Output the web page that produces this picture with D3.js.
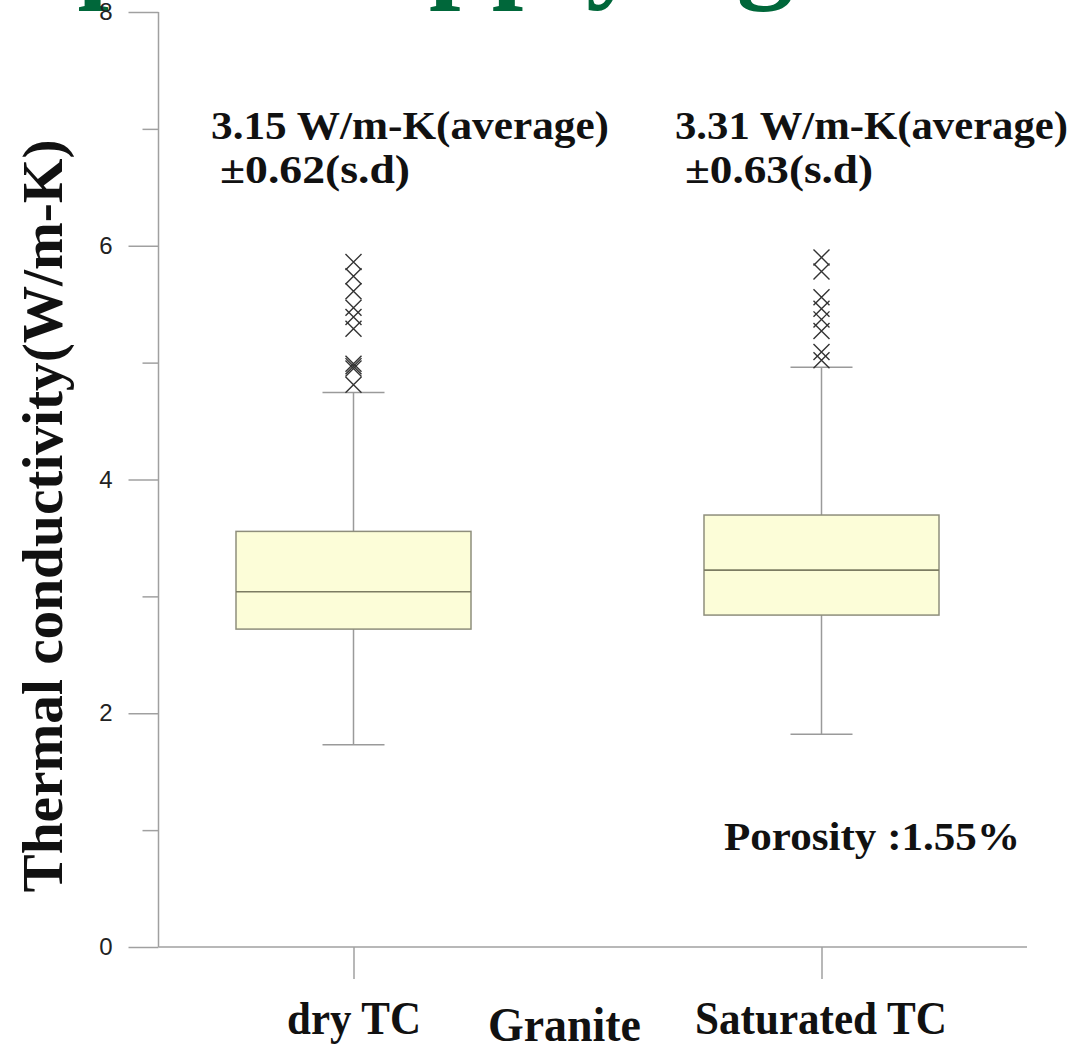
<!DOCTYPE html>
<html>
<head>
<meta charset="utf-8">
<script src="https://cdn.jsdelivr.net/npm/d3@7"></script>
<style>
  body { margin: 0; background: #fff; }
  svg { display: block; }
</style>
</head>
<body>
<script>
//Width and Height
var w = 1079;
var h = 1047;

/***Data***/
var categories = ["dry TC", "Saturated TC"];
var whiskerLow = [1.73, 1.82];
var q1 = [2.72, 2.84];
var median = [3.04, 3.225];
var q3 = [3.556, 3.696];
var whiskerHigh = [4.745, 4.96];
var dryOutliers = [5.86, 5.74, 5.61, 5.47, 5.39, 5.29, 4.99, 4.97, 4.95, 4.81];
var satOutliers = [5.90, 5.78, 5.56, 5.46, 5.37, 5.27, 5.09, 5.02];
var yTicks = [0, 2, 4, 6, 8];
var yMinorTicks = [1, 3, 5, 7];
var averages = ["3.15 W/m-K(average)", "3.31 W/m-K(average)"];
var deviations = ["\u00b10.62(s.d)", "\u00b10.63(s.d)"];

var boxes = categories.map(function(c, i) {
  return {name: c, lo: whiskerLow[i], q1: q1[i], med: median[i], q3: q3[i], hi: whiskerHigh[i],
          out: i === 0 ? dryOutliers : satOutliers};
});

var serif = "'Liberation Serif', 'Times New Roman', serif";
var sans = "'Liberation Sans', Arial, sans-serif";

/***Draw SVG***/
var svg = d3.select("body")
            .append("svg")
            .attr("width", w)
            .attr("height", h);

/***Cut-off slide heading (only its descenders show)***/
svg.append("text")
   .attr("x", -205)
   .attr("y", -13)
   .attr("font-family", serif)
   .attr("font-weight", "bold")
   .attr("font-size", 113)
   .attr("fill", "#00673a")
   .text("Example of applying");

/***Scales***/
var yScale = d3.scaleLinear()
               .domain([0, 8])
               .range([947, 12]);
var xScale = d3.scalePoint()
               .domain(categories)
               .range([353.5, 821.5]);

var axisLeftX = 158.5;
var axisRightX = 1027;
var boxHalf = 117.5;
var capHalf = 31;

/***Axes***/
var yAxis = d3.axisLeft(yScale)
              .tickValues(yTicks)
              .tickSize(30)
              .tickPadding(16)
              .tickSizeOuter(0);
var gy = svg.append("g")
            .attr("class", "yaxis")
            .attr("transform", "translate(" + axisLeftX + ",0)")
            .call(yAxis);
gy.select(".domain").remove();
gy.selectAll("line").attr("stroke", "#a0a0a0").attr("stroke-width", 1.5);
gy.selectAll("text")
  .attr("font-family", sans)
  .attr("font-size", 24)
  .attr("fill", "#222");

var gyMinor = svg.append("g")
                 .attr("transform", "translate(" + axisLeftX + ",0)")
                 .call(d3.axisLeft(yScale).tickValues(yMinorTicks).tickSize(16).tickFormat(""));
gyMinor.select(".domain").remove();
gyMinor.selectAll("line").attr("stroke", "#a0a0a0").attr("stroke-width", 1.5);

var xAxis = d3.axisBottom(xScale)
              .tickSize(32)
              .tickFormat("");
var gx = svg.append("g")
            .attr("class", "xaxis")
            .attr("transform", "translate(0," + yScale(0) + ")")
            .call(xAxis);
gx.select(".domain").remove();
gx.selectAll("line").attr("stroke", "#a0a0a0").attr("stroke-width", 1.5);

// axis lines
svg.append("line")
   .attr("x1", axisLeftX).attr("x2", axisLeftX)
   .attr("y1", yScale(8)).attr("y2", yScale(0))
   .attr("stroke", "#a0a0a0").attr("stroke-width", 1.5);
svg.append("line")
   .attr("x1", axisLeftX).attr("x2", axisRightX)
   .attr("y1", yScale(0)).attr("y2", yScale(0))
   .attr("stroke", "#a0a0a0").attr("stroke-width", 1.5);

/***Boxes***/
var g = svg.selectAll(".box")
           .data(boxes)
           .enter()
           .append("g")
           .attr("class", "box");

// whisker stems
g.append("line")
 .attr("x1", function(d) { return xScale(d.name); })
 .attr("x2", function(d) { return xScale(d.name); })
 .attr("y1", function(d) { return yScale(d.lo); })
 .attr("y2", function(d) { return yScale(d.hi); })
 .attr("stroke", "#9a9a9a").attr("stroke-width", 1.5);
// caps
["lo", "hi"].forEach(function(k) {
  g.append("line")
   .attr("x1", function(d) { return xScale(d.name) - capHalf; })
   .attr("x2", function(d) { return xScale(d.name) + capHalf; })
   .attr("y1", function(d) { return yScale(d[k]); })
   .attr("y2", function(d) { return yScale(d[k]); })
   .attr("stroke", "#9a9a9a").attr("stroke-width", 1.5);
});
// box
g.append("rect")
 .attr("x", function(d) { return xScale(d.name) - boxHalf; })
 .attr("width", boxHalf * 2)
 .attr("y", function(d) { return yScale(d.q3); })
 .attr("height", function(d) { return yScale(d.q1) - yScale(d.q3); })
 .attr("fill", "#fcfdd8")
 .attr("stroke", "#8e8e7c")
 .attr("stroke-width", 1.5);
// median
g.append("line")
 .attr("x1", function(d) { return xScale(d.name) - boxHalf; })
 .attr("x2", function(d) { return xScale(d.name) + boxHalf; })
 .attr("y1", function(d) { return yScale(d.med); })
 .attr("y2", function(d) { return yScale(d.med); })
 .attr("stroke", "#7c7c62").attr("stroke-width", 1.6);

// outliers
var xMark = d3.symbol().type(d3.symbolX).size(169);
g.each(function(d) {
  d3.select(this).selectAll(".out")
    .data(d.out)
    .enter()
    .append("path")
    .attr("class", "out")
    .attr("d", xMark)
    .attr("transform", function(v) { return "translate(" + xScale(d.name) + "," + yScale(v) + ")"; })
    .attr("fill", "none")
    .attr("stroke", "#333")
    .attr("stroke-width", 1.4);
});

/***Annotations***/
var annX = [211, 675];
var annW = [398, 393];
var devX = [220, 685];
var devW = [190, 188];
categories.forEach(function(c, i) {
  svg.append("text")
     .attr("x", annX[i]).attr("y", 139)
     .attr("font-family", serif).attr("font-weight", "bold")
     .attr("font-size", 39).attr("fill", "#111")
     .attr("textLength", annW[i]).attr("lengthAdjust", "spacingAndGlyphs")
     .text(averages[i]);
  svg.append("text")
     .attr("x", devX[i]).attr("y", 183)
     .attr("font-family", serif).attr("font-weight", "bold")
     .attr("font-size", 39).attr("fill", "#111")
     .attr("textLength", devW[i]).attr("lengthAdjust", "spacingAndGlyphs")
     .text(deviations[i]);
});

svg.append("text")
   .attr("x", 724).attr("y", 850)
   .attr("font-family", serif).attr("font-weight", "bold")
   .attr("font-size", 41).attr("fill", "#111")
   .attr("textLength", 296).attr("lengthAdjust", "spacingAndGlyphs")
   .text("Porosity :1.55%");

/***Category labels***/
var catX = [287, 695];
var catW = [134, 252];
svg.selectAll(".cat")
   .data(categories)
   .enter()
   .append("text")
   .attr("class", "cat")
   .attr("x", function(d, i) { return catX[i]; })
   .attr("y", 1034)
   .attr("font-family", serif).attr("font-weight", "bold")
   .attr("font-size", 46).attr("fill", "#111")
   .attr("textLength", function(d, i) { return catW[i]; })
   .attr("lengthAdjust", "spacingAndGlyphs")
   .text(function(d) { return d; });

svg.append("text")
   .attr("x", 488).attr("y", 1041)
   .attr("font-family", serif).attr("font-weight", "bold")
   .attr("font-size", 48).attr("fill", "#111")
   .attr("textLength", 153).attr("lengthAdjust", "spacingAndGlyphs")
   .text("Granite");

/***Y title***/
svg.append("text")
   .attr("transform", "translate(62,516)rotate(-90)")
   .attr("text-anchor", "middle")
   .attr("font-family", serif).attr("font-weight", "bold")
   .attr("font-size", 56).attr("fill", "#111")
   .attr("textLength", 753).attr("lengthAdjust", "spacingAndGlyphs")
   .text("Thermal conductivity(W/m-K)");
</script>
</body>
</html>
